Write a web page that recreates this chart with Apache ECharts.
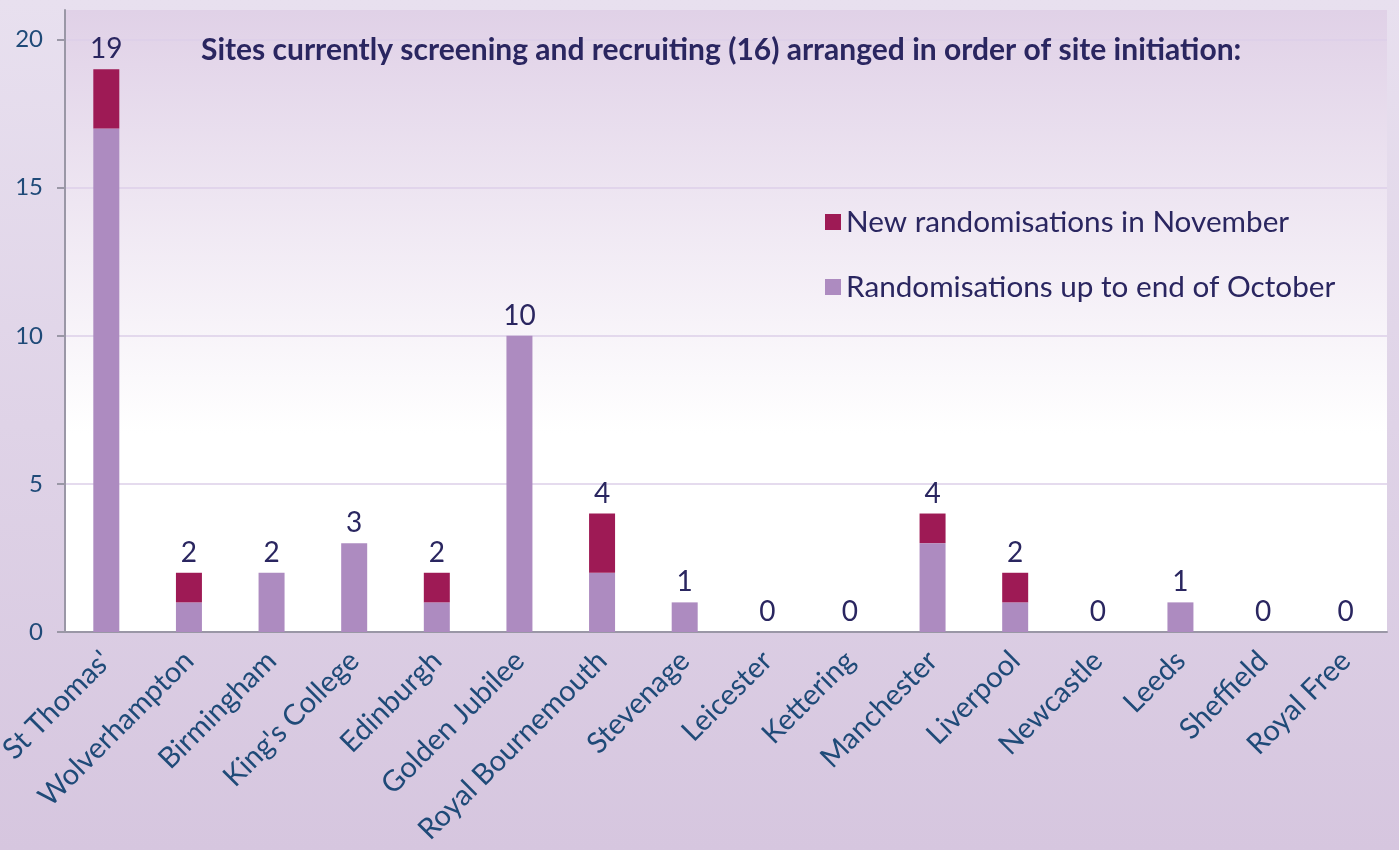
<!DOCTYPE html>
<html lang="en">
<head>
    <meta charset="utf-8" />
    <title>Randomisations by site</title>
    <script src="https://cdn.jsdelivr.net/npm/echarts@6/dist/echarts.min.js"></script>
    <style>
        html, body { margin: 0; padding: 0; }
        #chart { width: 1399px; height: 850px; }
    </style>
</head>
<body>
    <div id="chart"></div>
    <script>
        // sites in order of site initiation
        var sites = ["St Thomas'", 'Wolverhampton', 'Birmingham', "King's College", 'Edinburgh',
            'Golden Jubilee', 'Royal Bournemouth', 'Stevenage', 'Leicester', 'Kettering',
            'Manchester', 'Liverpool', 'Newcastle', 'Leeds', 'Sheffield', 'Royal Free'];
        var upToOctober = [17, 1, 2, 3, 1, 10, 2, 1, 0, 0, 3, 1, 0, 1, 0, 0];
        var newNovember = [2, 1, 0, 0, 1, 0, 2, 0, 0, 0, 1, 1, 0, 0, 0, 0];
        var yTicks = [0, 5, 10, 15, 20];

        var nameOct = 'Randomisations up to end of October';
        var nameNov = 'New randomisations in November';

        var totals = [];
        for (var i = 0; i < sites.length; i++) {
            totals[i] = upToOctober[i] + newNovember[i];
        }

        var textColor = '#2a2660';
        var axisColor = '#1f4a78';

        var myChart = echarts.init(document.getElementById('chart'));
        var option = {
            backgroundColor: {
                type: 'linear', x: 0, y: 0, x2: 0, y2: 1,
                colorStops: [
                    { offset: 0, color: '#e8e0ef' },
                    { offset: 1, color: '#d6c6df' }
                ]
            },
            textStyle: { fontFamily: 'Lato' },
            title: {
                text: 'Sites currently screening and recruiting (16) arranged in order of site initiation:',
                left: 196,
                top: 30,
                textStyle: { fontFamily: 'Lato', fontWeight: 'bold', fontSize: 30, color: textColor }
            },
            legend: {
                orient: 'vertical',
                left: 820,
                top: 199,
                icon: 'rect',
                itemWidth: 16,
                itemHeight: 16,
                itemGap: 29,
                data: [nameNov, nameOct],
                textStyle: { fontSize: 29.7, color: textColor, lineHeight: 36 }
            },
            grid: {
                left: 65,
                right: 12,
                top: 10,
                bottom: 218,
                outerBoundsMode: 'none',
                containLabel: false,
                show: true,
                borderWidth: 0,
                backgroundColor: {
                    type: 'linear', x: 0, y: 0, x2: 0, y2: 1,
                    colorStops: [
                        { offset: 0, color: '#e0d1e7' },
                        { offset: 0.68, color: '#ffffff' },
                        { offset: 1, color: '#ffffff' }
                    ]
                }
            },
            xAxis: {
                type: 'category',
                data: sites,
                axisLine: { lineStyle: { color: '#9a97a6', width: 2 } },
                axisTick: { length: 10, lineStyle: { color: '#9a97a6', width: 2 } },
                axisLabel: {
                    rotate: 45,
                    interval: 0,
                    margin: 24,
                    fontSize: 29,
                    color: axisColor
                }
            },
            yAxis: {
                type: 'value',
                min: 0,
                max: 21,
                interval: 5,
                axisLine: { show: true, lineStyle: { color: '#9a97a6', width: 2 } },
                axisTick: { show: true, length: 8, customValues: yTicks, lineStyle: { color: '#9a97a6', width: 2 } },
                axisLabel: {
                    customValues: yTicks,
                    margin: 22,
                    fontSize: 24,
                    color: axisColor
                },
                splitLine: { lineStyle: { color: '#dccfe8', width: 1.5 } }
            },
            series: [
                {
                    name: nameOct,
                    type: 'bar',
                    stack: 'all',
                    barWidth: 26,
                    data: upToOctober,
                    itemStyle: { color: '#ad8bc0' }
                },
                {
                    name: nameNov,
                    type: 'bar',
                    stack: 'all',
                    barWidth: 26,
                    data: newNovember,
                    itemStyle: { color: '#9e1a55' },
                    label: {
                        show: true,
                        position: 'top',
                        distance: 6,
                        fontSize: 28,
                        color: textColor,
                        formatter: function (p) { return totals[p.dataIndex]; }
                    }
                }
            ]
        };
        myChart.setOption(option);
    </script>
</body>
</html>
